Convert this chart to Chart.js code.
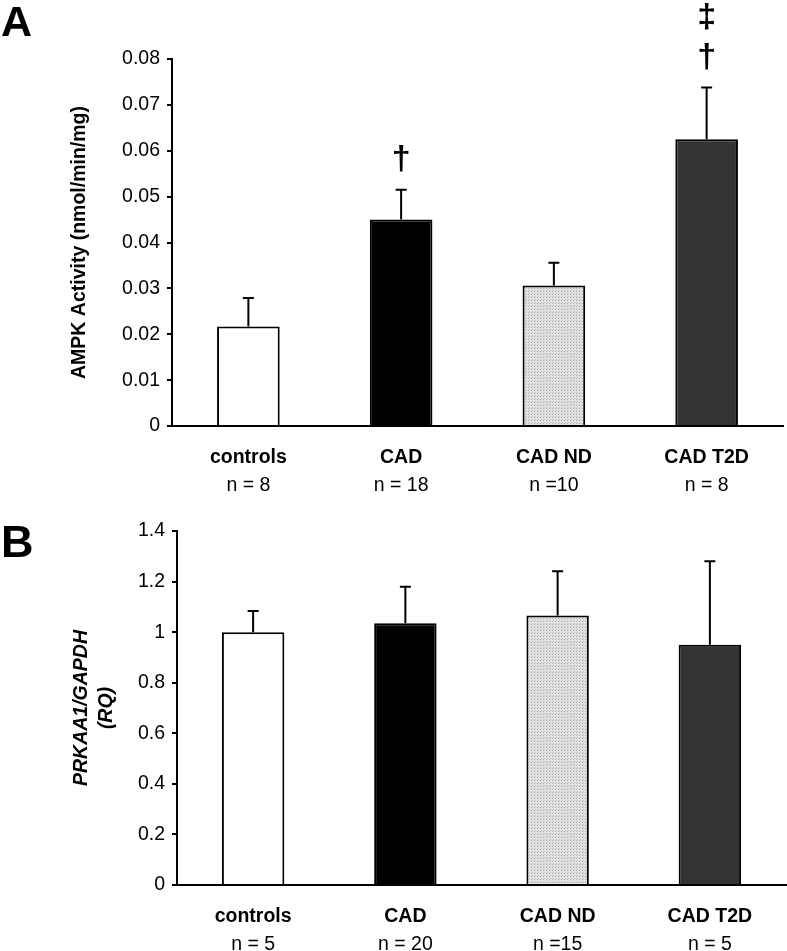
<!DOCTYPE html>
<html><head><meta charset="utf-8">
<script src="https://cdn.jsdelivr.net/npm/chart.js@4.4.0/dist/chart.umd.min.js"></script>
<style>
body{margin:0;background:#fff;width:787px;height:951px;overflow:hidden;position:relative;font-family:"Liberation Sans",Arial,sans-serif}
.panel{position:absolute;left:0;font-weight:bold;color:#000;line-height:1;font-family:"Liberation Sans",Arial,sans-serif}
#wrapA{position:absolute;left:0;top:0;width:787px;height:510px}
#wrapB{position:absolute;left:0;top:510px;width:787px;height:441px}
canvas{display:block}
</style></head><body>
<div id="wrapA"><canvas id="chartA" width="787" height="510"></canvas></div>
<div id="wrapB"><canvas id="chartB" width="787" height="441"></canvas></div>
<div class="panel" style="top:0;left:1px;font-size:43px">A</div>
<div class="panel" style="top:519px;left:1px;font-size:45px">B</div>
<script>
// ---- data ----
const categories = ['controls', 'CAD', 'CAD ND', 'CAD T2D'];

const ampkN = ['n = 8', 'n = 18', 'n =10', 'n = 8'];
const ampkMean = [0.0217, 0.0450, 0.0306, 0.0625];
const ampkErr = [0.0062, 0.0065, 0.0050, 0.0113];
const ampkMarks = [[], ['†'], [], ['†', '‡']];
const ampkTickLabels = ['0', '0.01', '0.02', '0.03', '0.04', '0.05', '0.06', '0.07', '0.08'];

const prkaaN = ['n = 5', 'n = 20', 'n =15', 'n = 5'];
const prkaaMean = [1.00, 1.035, 1.066, 0.950];
const prkaaErr = [0.084, 0.145, 0.175, 0.330];
const prkaaMarks = [[], [], [], []];
const prkaaTickLabels = ['0', '0.2', '0.4', '0.6', '0.8', '1', '1.2', '1.4'];

// ---- styles ----
Chart.defaults.font.family = '"Liberation Sans", Arial, sans-serif';
Chart.defaults.color = '#000';
const FS = 19.5;

function dotPattern() {
  const c = document.createElement('canvas');
  c.width = 3; c.height = 3;
  const g = c.getContext('2d');
  g.fillStyle = '#e2e2e2'; g.fillRect(0, 0, 3, 3);
  g.fillStyle = '#a9a9a9'; g.fillRect(0, 0, 1, 1);
  g.fillStyle = '#c4c4c4'; g.fillRect(1, 2, 1, 1);
  return g.createPattern(c, 'repeat');
}
function barColors() {
  return ['#ffffff', '#000000', dotPattern(), '#333333'];
}

function makeErrPlugin(mean, err, marks) {
  return {
    id: 'errbars',
    afterDatasetsDraw(chart) {
      const meta = chart.getDatasetMeta(0);
      const y = chart.scales.y;
      const ctx = chart.ctx;
      ctx.save();
      ctx.strokeStyle = '#000';
      ctx.lineWidth = 2;
      ctx.fillStyle = '#000';
      ctx.font = 'bold 34px "Liberation Sans", Arial, sans-serif';
      ctx.textAlign = 'center';
      ctx.textBaseline = 'middle';
      mean.forEach((m, i) => {
        const bar = meta.data[i];
        const yb = y.getPixelForValue(m);
        const yt = y.getPixelForValue(m + err[i]);
        ctx.beginPath();
        ctx.moveTo(bar.x, yb); ctx.lineTo(bar.x, yt);
        ctx.moveTo(bar.x - 5.5, yt); ctx.lineTo(bar.x + 5.5, yt);
        ctx.stroke();
        (marks[i] || []).forEach((mk, k) => {
          ctx.fillText(mk, bar.x, yt - 30 - 40 * k);
        });
      });
      ctx.restore();
    }
  };
}

function makeChart(id, cfg) {
  return new Chart(document.getElementById(id), {
    type: 'bar',
    data: {
      labels: categories,
      datasets: [{
        data: cfg.mean,
        xAxisID: 'x', yAxisID: 'y',
        backgroundColor: barColors(),
        borderColor: '#000',
        borderWidth: 2,
        barPercentage: 0.41,
        categoryPercentage: 1.0
      }]
    },
    options: {
      responsive: false,
      animation: false,
      devicePixelRatio: 1,
      layout: { padding: cfg.padding },
      plugins: { legend: { display: false }, tooltip: { enabled: false } },
      scales: {
        x: {
          type: 'category', labels: categories, position: 'bottom', weight: 0, offset: true,
          grid: { display: false, drawTicks: false },
          border: { display: true, color: '#000', width: 2 },
          ticks: { font: { size: FS, weight: 'bold' }, padding: 20.3, maxRotation: 0, autoSkip: false },
          afterFit(s) { s.height = 40; }
        },
        x2: {
          type: 'category', labels: cfg.nLabels, position: 'bottom', weight: 1, offset: true,
          grid: { display: false, drawTicks: false },
          border: { display: false },
          ticks: { font: { size: FS }, padding: 7.5, maxRotation: 0, autoSkip: false },
          afterFit(s) { s.height = cfg.x2Height; }
        },
        y: {
          min: 0, max: cfg.max,
          ticks: { stepSize: cfg.step, font: { size: FS }, padding: 7,
                   callback: (v, i) => cfg.tickLabels[i] },
          grid: { drawOnChartArea: false, drawTicks: true, tickLength: 5, color: '#000', lineWidth: 2 },
          border: { color: '#000', width: 2 },
          title: cfg.title,
          afterFit(s) { s.width = cfg.yWidth; }
        }
      }
    },
    plugins: [makeErrPlugin(cfg.mean, cfg.err, cfg.marks)]
  });
}

makeChart('chartA', {
  mean: ampkMean, err: ampkErr, marks: ampkMarks, nLabels: ampkN,
  tickLabels: ampkTickLabels, max: 0.08, step: 0.01,
  padding: { left: 60, right: 4, top: 59, bottom: 0 },
  x2Height: 44, yWidth: 112,
  title: { display: true, text: 'AMPK Activity (nmol/min/mg)',
           font: { size: FS, weight: 'bold' }, padding: { top: 8.3, bottom: 0 } }
});

makeChart('chartB', {
  mean: prkaaMean, err: prkaaErr, marks: prkaaMarks, nLabels: prkaaN,
  tickLabels: prkaaTickLabels, max: 1.4, step: 0.2,
  padding: { left: 60, right: 1, top: 21, bottom: 0 },
  x2Height: 26, yWidth: 117,
  title: { display: true, text: ['PRKAA1/GAPDH', '(RQ)'],
           font: { size: FS, weight: 'bold', style: 'italic', lineHeight: 1.28 }, padding: { top: 9.5, bottom: 0 } }
});
</script>
</body></html>
